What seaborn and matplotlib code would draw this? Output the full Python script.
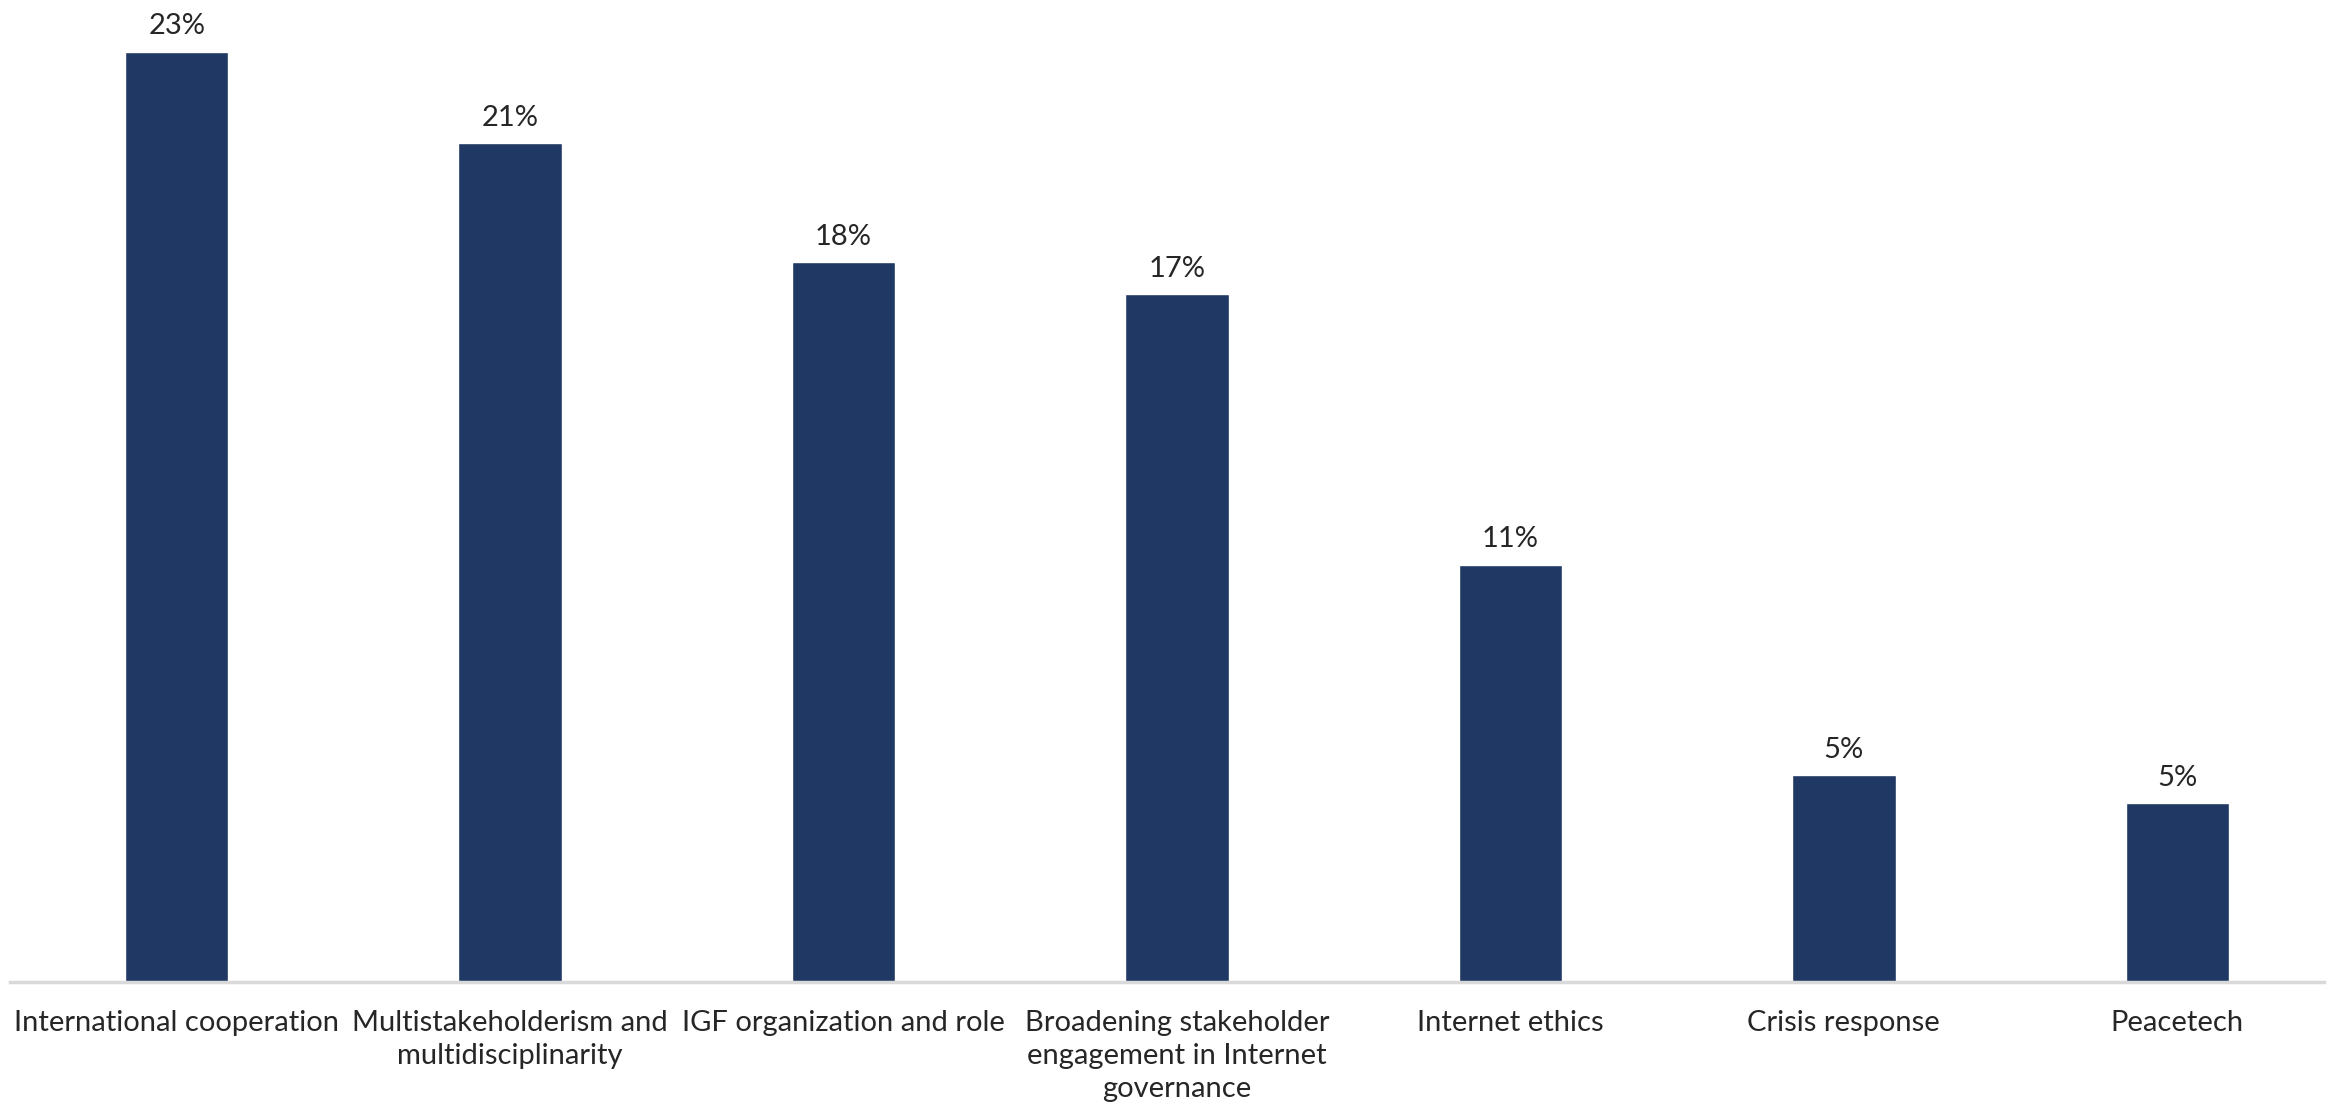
import numpy as np
import pandas as pd
import matplotlib
matplotlib.use("Agg")
import matplotlib.pyplot as plt
import seaborn as sns

# data
topics = [
    "International cooperation",
    "Multistakeholderism and\nmultidisciplinarity",
    "IGF organization and role",
    "Broadening stakeholder\nengagement in Internet\ngovernance",
    "Internet ethics",
    "Crisis response",
    "Peacetech",
]
shares = [23.4, 21.1, 18.1, 17.3, 10.5, 5.2, 4.5]
share_labels = ["23%", "21%", "18%", "17%", "11%", "5%", "5%"]

bar_color = "#203864"

sns.set_theme(style="white")
plt.rcParams["font.family"] = ["Lato", "DejaVu Sans"]

df = pd.DataFrame({"topic": topics, "share": shares})

W, H = 2333, 1114
fig = plt.figure(figsize=(W / 100, H / 100), dpi=100)
ax = fig.add_axes([10 / W, (H - 982) / H, (2324 - 10) / W, 982 / H])

sns.barplot(data=df, x="topic", y="share", color=bar_color, width=0.31,
            saturation=1, ax=ax)

# value labels over the bars
for patch, txt in zip(ax.patches, share_labels):
    ax.annotate(txt, (patch.get_x() + patch.get_width() / 2, patch.get_height()),
                xytext=(0, 9), textcoords="offset points",
                ha="center", va="bottom", fontsize=21, color="#262626")

ax.set_xlim(-0.5, 6.44)
ax.set_ylim(0, 24.7)
ax.set_xlabel("")
ax.set_ylabel("")
ax.set_yticks([])
ax.tick_params(axis="x", length=0, pad=20, labelsize=21, labelcolor="#262626")

for side in ["top", "right", "left"]:
    ax.spines[side].set_visible(False)
ax.spines["bottom"].set_color("#d9d9d9")
ax.spines["bottom"].set_linewidth(2.5)

# a little more room between wrapped label lines, like the original
fig.canvas.draw()
for lab in ax.get_xticklabels():
    lab.set_linespacing(1.35)

fig.savefig("out.png", dpi=100, facecolor="white")
